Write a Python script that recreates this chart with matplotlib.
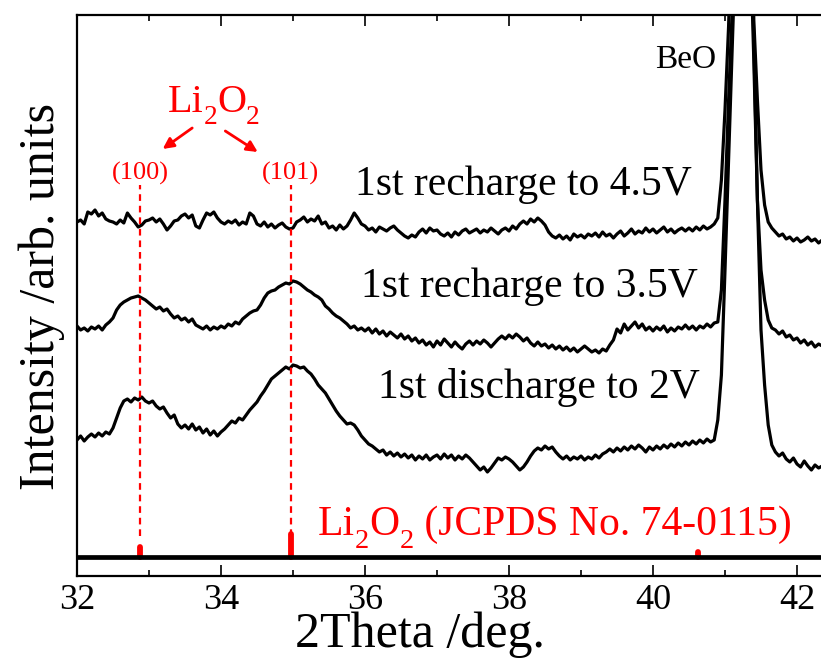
import numpy as np
import matplotlib
matplotlib.use('Agg')
import matplotlib.pyplot as plt
from matplotlib.ticker import MultipleLocator
from matplotlib.transforms import offset_copy

plt.rcParams['font.family'] = ['Liberation Serif', 'DejaVu Serif']

# ---------------- data ----------------
two_theta = np.round(np.arange(32.0, 42.351, 0.05), 2)

recharge_45V = [
    354, 356, 352, 364, 362, 366, 360, 363, 357, 355,
    354, 352, 356, 353, 363, 358, 354, 349, 351, 355,
    356, 358, 354, 357, 352, 346, 350, 355, 356, 360,
    362, 358, 361, 350, 348, 356, 363, 361, 364, 358,
    354, 352, 355, 353, 356, 351, 354, 352, 363, 360,
    352, 350, 354, 349, 352, 348, 351, 353, 349, 347,
    348, 354, 356, 359, 354, 357, 355, 360, 352, 354,
    348, 350, 346, 351, 347, 350, 356, 363, 358, 352,
    350, 346, 348, 344, 349, 347, 345, 348, 350, 346,
    343, 340, 338, 341, 339, 344, 347, 343, 348, 345,
    346, 342, 340, 343, 339, 344, 341, 345, 347, 343,
    345, 347, 343, 346, 344, 348, 345, 342, 346, 348,
    345, 350, 347, 352, 355, 352, 357, 354, 358, 355,
    351, 344, 340, 338, 341, 337, 340, 336, 342, 339,
    341, 338, 342, 340, 343, 339, 344, 340, 342, 338,
    342, 345, 340, 343, 347, 342, 345, 343, 348, 344,
    347, 343, 346, 349, 344, 347, 343, 346, 348, 345,
    348, 345, 349, 346, 350, 347, 349, 352, 358, 396,
    466, 550, 680, 850, 1000, 1050, 980, 800, 556, 476,
    406, 371, 354, 348, 344, 340, 342, 337, 339, 335,
    338, 334, 336, 339, 335, 337, 333, 336,
]

recharge_35V = [
    250, 246, 248, 245, 249, 247, 250, 246, 251, 254,
    258, 266, 271, 274, 276, 278, 279, 280, 278, 276,
    273, 270, 267, 269, 265, 267, 262, 258, 260, 256,
    258, 254, 257, 251, 249, 247, 250, 246, 249, 247,
    250, 248, 252, 250, 254, 252, 257, 260, 263, 265,
    266, 271, 278, 283, 285, 286, 289, 291, 293, 292,
    295, 294, 292, 289, 286, 284, 281, 279, 276, 270,
    267, 263, 260, 258, 255, 252, 248, 250, 246, 248,
    245, 248, 243, 247, 242, 245, 240, 244, 241, 238,
    242, 237, 240, 235, 238, 233, 236, 231, 234, 229,
    235, 231, 237, 233, 229, 234, 230, 227, 232, 235,
    231, 235, 232, 236, 233, 229, 233, 237, 240, 237,
    241, 238, 242, 239, 235, 238, 233, 230, 234, 230,
    232, 228, 231, 227, 230, 226, 229, 225, 228, 224,
    227, 230, 227, 224, 226, 223, 227, 225, 231, 236,
    247, 243, 252, 246, 250, 254, 248, 252, 246, 249,
    245, 249, 246, 250, 244, 248, 245, 249, 247, 251,
    247, 250, 246, 250, 248, 252, 249, 253, 254, 286,
    376, 476, 566, 700, 850, 900, 820, 680, 536, 376,
    306, 276, 256, 248, 246, 242, 245, 239, 241, 236,
    238, 233, 236, 231, 234, 229, 232, 230,
]

discharge_2V = [
    136, 140, 135, 139, 142, 139, 143, 140, 144, 142,
    148, 158, 168, 175, 177, 174, 178, 176, 179, 175,
    173, 175, 170, 167, 169, 163, 158, 161, 152, 148,
    151, 147, 152, 146, 149, 143, 147, 141, 145, 140,
    144, 147, 151, 155, 153, 158, 156, 161, 166, 170,
    174, 180, 185, 191, 197, 200, 203, 206, 209, 207,
    211, 210, 208, 209, 205, 202, 197, 191, 187, 183,
    177, 171, 165, 160, 156, 152, 153, 151, 146, 140,
    136, 132, 130, 127, 124, 126, 121, 124, 120, 123,
    119, 122, 118, 121, 116, 120, 117, 121, 116, 119,
    121, 117, 122, 118, 121, 116, 120, 117, 121, 118,
    114, 110, 106, 109, 104, 108, 113, 118, 116, 119,
    117, 114, 110, 106, 109, 114, 120, 125, 128, 126,
    130, 127, 129, 124, 120, 117, 120, 116, 119, 117,
    120, 116, 119, 117, 121, 118, 122, 124, 127, 124,
    128, 125, 129, 126, 130, 127, 131, 128, 124, 129,
    126, 130, 127, 131, 128, 132, 129, 133, 130, 134,
    131, 135, 132, 136, 133, 137, 134, 136, 156, 201,
    306, 416, 526, 640, 760, 800, 740, 640, 516, 376,
    246, 191, 151, 131, 124, 120, 123, 117, 114, 118,
    112, 109, 115, 110, 106, 111, 108, 110,
]

# Li2O2 reference pattern (JCPDS 74-0115)
ref_positions = [32.88, 34.97, 40.63]
ref_intensity = [10, 23, 5]
ref_baseline = 19
hkl_labels = ['(100)', '(101)']

trace_labels = ['1st recharge to 4.5V', '1st recharge to 3.5V', '1st discharge to 2V']

# ---------------- figure ----------------
fig = plt.figure(figsize=(8.21, 6.71), dpi=100)
ax = fig.add_axes([77 / 821, 95 / 671, 792 / 821, 561 / 671])
ax.set_xlim(32, 43)
ax.set_ylim(0, 561)
renderer = fig.canvas.get_renderer()


def piece_text(x, y, pieces, fontsize, color):
    """Draw text made of normal / subscript pieces along one baseline."""
    dx = 0.0
    for s, sub in pieces:
        fs = fontsize * 0.68 if sub else fontsize
        dy = -0.30 * fontsize * 100 / 72 if sub else 0.0
        tr = offset_copy(ax.transData, fig=fig, x=dx, y=dy, units='dots')
        t = ax.text(x, y, s, fontsize=fs, color=color, ha='left',
                    va='baseline', transform=tr)
        dx += t.get_window_extent(renderer).width


for series in (recharge_45V, recharge_35V, discharge_2V):
    ax.plot(two_theta, series, color='black', lw=2.3, zorder=3)

# reference baseline and sticks
ax.axhline(ref_baseline, color='black', lw=3.4, zorder=5)
for p, i in zip(ref_positions, ref_intensity):
    ax.plot([p, p], [ref_baseline, ref_baseline + i], color='red', lw=4.2,
            solid_capstyle='round', zorder=4)

# dashed guide lines for (100) and (101)
for p in ref_positions[:2]:
    ax.plot([p, p], [40, 391], color='red', lw=1.6, ls=(0, (3, 2.2)), zorder=6)

# hkl labels
for p, lab in zip(ref_positions[:2], hkl_labels):
    ax.text(p, 403, lab, color='red', fontsize=19, ha='center', va='center')

# Li2O2 label with arrows
piece_text(33.26, 464, [('Li', False), ('2', True), ('O', False), ('2', True)],
           29, 'red')
arrow_kw = dict(arrowstyle='-|>', color='red', lw=2.0, mutation_scale=16,
                shrinkA=0, shrinkB=0)
ax.annotate('', xy=(33.19, 427), xytext=(33.6, 448), arrowprops=arrow_kw)
ax.annotate('', xy=(34.51, 424), xytext=(34.06, 445), arrowprops=arrow_kw)

# trace labels
ax.text(40.54, 381, trace_labels[0], fontsize=30, ha='right', va='baseline')
ax.text(40.63, 279, trace_labels[1], fontsize=30, ha='right', va='baseline')
ax.text(40.65, 178, trace_labels[2], fontsize=30, ha='right', va='baseline')

ax.text(40.46, 508, 'BeO', fontsize=24, ha='center', va='baseline')
piece_text(35.35, 41, [('Li', False), ('2', True), ('O', False), ('2', True),
                       (' (JCPDS No. 74-0115)', False)], 30, 'red')

# axes styling
ax.xaxis.set_major_locator(MultipleLocator(2))
ax.xaxis.set_minor_locator(MultipleLocator(1))
ax.tick_params(which='both', direction='in', top=True, bottom=True, width=1.2)
ax.tick_params(which='major', length=8, labelsize=26, pad=6)
ax.tick_params(which='minor', length=4)
ax.set_yticks([])
for s in ax.spines.values():
    s.set_linewidth(1.6)

ax.set_xlabel('2Theta /deg.', fontsize=36)
ax.xaxis.set_label_coords((420 - 77) / 792, (576 - 611) / 561)
ax.set_ylabel('Intensity /arb. units', fontsize=36)
ax.yaxis.set_label_coords((65 - 77) / 792, (576 - 297) / 561)

fig.savefig('out.png', dpi=100)
